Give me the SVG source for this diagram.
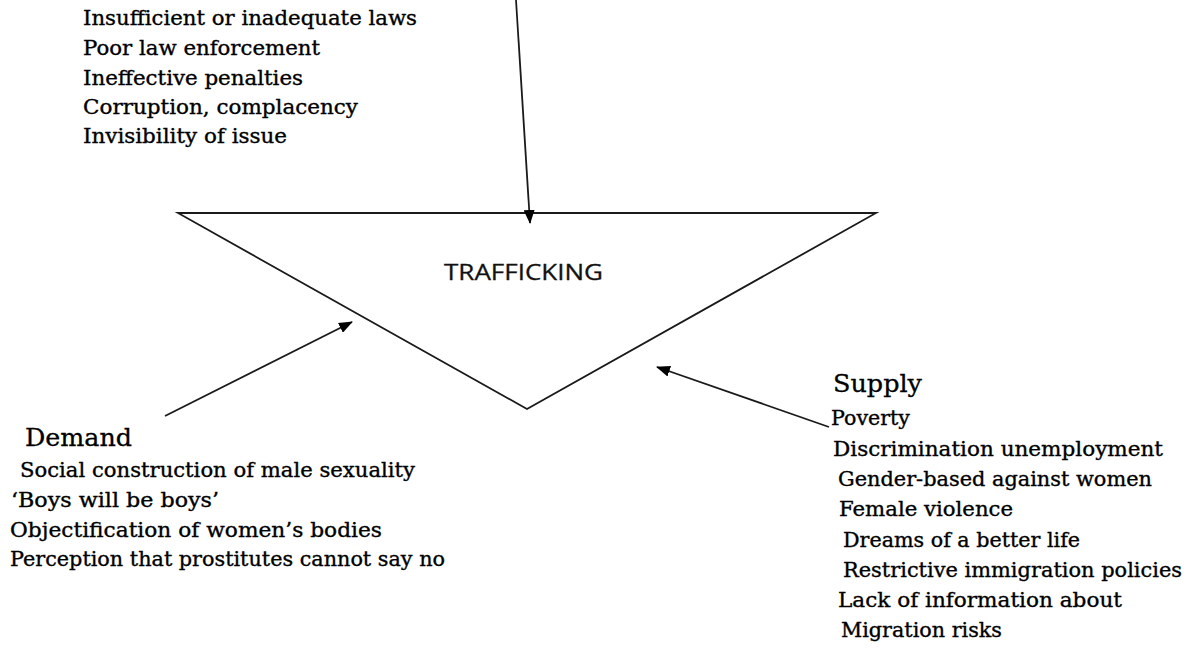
<svg xmlns="http://www.w3.org/2000/svg" width="1192" height="654" viewBox="0 0 1192 654">
<defs>
<marker id="ah" viewBox="0 0 14 11" refX="13" refY="5.5" markerWidth="14" markerHeight="11" markerUnits="userSpaceOnUse" orient="auto">
<path d="M0,0 L14,5.5 L0,11 Z" fill="#000"/>
</marker>
<style>
.t{font-family:"DejaVu Serif","Liberation Serif",serif;font-size:20px;fill:#000;stroke:#000;stroke-width:0.35}
.h{font-family:"DejaVu Serif","Liberation Serif",serif;font-size:24px;fill:#000;stroke:#000;stroke-width:0.3}
.c{font-family:"Open Sans","Liberation Sans",Arial,sans-serif;font-size:22px;fill:#111;stroke:#111;stroke-width:0.3}
.ln{stroke:#1a1a1a;stroke-width:1.8;fill:none}
</style>
</defs>
<rect width="1192" height="654" fill="#fff"/>
<g id="law">
<text class="t" x="83" y="25" textLength="334" lengthAdjust="spacingAndGlyphs">Insufficient or inadequate laws</text>
<text class="t" x="83" y="55" textLength="237" lengthAdjust="spacingAndGlyphs">Poor law enforcement</text>
<text class="t" x="83" y="85" textLength="220" lengthAdjust="spacingAndGlyphs">Ineffective penalties</text>
<text class="t" x="83" y="114" textLength="275" lengthAdjust="spacingAndGlyphs">Corruption, complacency</text>
<text class="t" x="83" y="143" textLength="204" lengthAdjust="spacingAndGlyphs">Invisibility  of issue</text>
</g>
<g id="trafficking">
<polygon class="ln" points="178,213 876,213 527,409"/>
<text class="c" x="444" y="280" textLength="159" lengthAdjust="spacingAndGlyphs">TRAFFICKING</text>
</g>
<g id="demand">
<text class="h" x="25" y="446" textLength="107" lengthAdjust="spacingAndGlyphs">Demand</text>
<text class="t" x="20" y="477" textLength="395" lengthAdjust="spacingAndGlyphs">Social construction of male sexuality</text>
<text class="t" x="11" y="507" textLength="208" lengthAdjust="spacingAndGlyphs">‘Boys will  be boys’</text>
<text class="t" x="10" y="537" textLength="372" lengthAdjust="spacingAndGlyphs">Objectification of women’s bodies</text>
<text class="t" x="10" y="566" textLength="435" lengthAdjust="spacingAndGlyphs">Perception that prostitutes cannot say no</text>
</g>
<g id="supply">
<text class="h" x="833" y="392" textLength="89" lengthAdjust="spacingAndGlyphs">Supply</text>
<text class="t" x="831" y="425" textLength="79" lengthAdjust="spacingAndGlyphs">Poverty</text>
<text class="t" x="833" y="456" textLength="330" lengthAdjust="spacingAndGlyphs">Discrimination  unemployment</text>
<text class="t" x="838" y="486" textLength="314" lengthAdjust="spacingAndGlyphs">Gender-based against women</text>
<text class="t" x="839" y="516" textLength="174" lengthAdjust="spacingAndGlyphs">Female violence</text>
<text class="t" x="843" y="547" textLength="237" lengthAdjust="spacingAndGlyphs">Dreams of a better life</text>
<text class="t" x="843" y="577" textLength="339" lengthAdjust="spacingAndGlyphs">Restrictive immigration policies</text>
<text class="t" x="838" y="607" textLength="284" lengthAdjust="spacingAndGlyphs">Lack of information about</text>
<text class="t" x="841" y="637" textLength="161" lengthAdjust="spacingAndGlyphs">Migration risks</text>
</g>
<g id="connectors">
<line class="ln" x1="516" y1="0" x2="530" y2="223" marker-end="url(#ah)"/>
<line class="ln" x1="165" y1="416" x2="352" y2="322" marker-end="url(#ah)"/>
<line class="ln" x1="829" y1="427" x2="657" y2="367" marker-end="url(#ah)"/>
</g>
</svg>
